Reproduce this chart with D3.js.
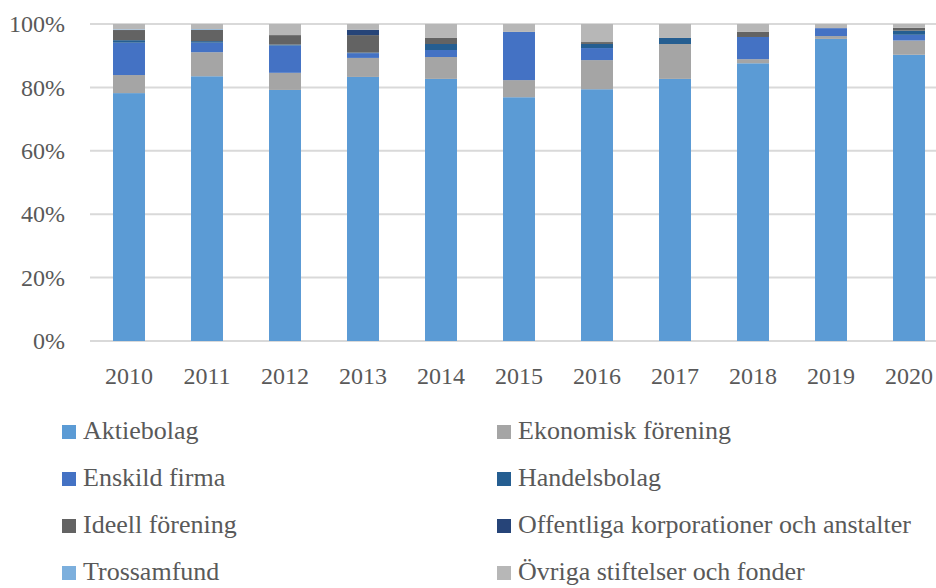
<!DOCTYPE html>
<html>
<head>
<meta charset="utf-8">
<script src="https://cdn.jsdelivr.net/npm/d3@7"></script>
<style>
  body { margin: 0; background: #fff; }
  text { font-family: "Liberation Serif", "Times New Roman", serif; fill: #595959; }
</style>
</head>
<body>
<div id="chart"></div>
<script>
var years = ["2010", "2011", "2012", "2013", "2014", "2015", "2016", "2017", "2018", "2019", "2020"];
var seriesNames = ["Aktiebolag", "Ekonomisk förening", "Enskild firma", "Handelsbolag",
  "Ideell förening", "Offentliga korporationer och anstalter", "Trossamfund", "Övriga stiftelser och fonder"];
var seriesColors = ["#5b9bd5", "#a5a5a5", "#4472c4", "#255e91", "#636363", "#264478", "#7cafdd", "#b7b7b7"];

// share in percent per year
var aktiebolag   = [78.2, 83.6, 79.2, 83.3, 82.6, 76.9, 79.5, 82.6, 87.7, 95.3, 90.2];
var ekonomisk    = [5.7, 7.6, 5.4, 6.0, 6.9, 5.4, 9.2, 11.0, 1.3, 0.9, 4.5];
var enskild      = [10.2, 3.0, 8.6, 1.5, 2.2, 15.2, 3.8, 0, 7.0, 2.5, 1.8];
var handelsbolag = [0.8, 0.5, 0.3, 0.2, 1.9, 0, 1.3, 1.9, 0, 0, 1.3];
var ideell       = [3.2, 3.6, 3.0, 5.5, 1.9, 0, 0.6, 0, 1.6, 0, 0.9];
var offentliga   = [0, 0, 0, 1.7, 0, 0, 0, 0, 0, 0, 0];
var trossamfund  = [0.2, 0.2, 0, 0, 0, 0, 0, 0, 0, 0, 0];
var ovriga       = [1.7, 1.6, 3.5, 1.8, 4.4, 2.5, 5.7, 4.4, 2.5, 1.3, 1.2];
var yTicks = [0, 0.2, 0.4, 0.6, 0.8, 1];

var seriesValues = [aktiebolag, ekonomisk, enskild, handelsbolag, ideell, offentliga, trossamfund, ovriga];
var table = years.map(function (yr, i) {
  var row = { year: yr };
  seriesNames.forEach(function (name, k) { row[name] = seriesValues[k][i]; });
  return row;
});

var width = 936, height = 588;
var margin = { top: 24, left: 90, bottom: 247 };
var plotBottom = height - margin.bottom;

var svg = d3.select("#chart").append("svg")
  .attr("width", width)
  .attr("height", height);

var x = d3.scaleBand().domain(years).range([90, 948]).paddingInner(0.59).paddingOuter(0.295);
var y = d3.scaleLinear().domain([0, 1]).range([341, 24]);
var color = d3.scaleOrdinal().domain(seriesNames).range(seriesColors);

// gridlines
svg.append("g")
  .selectAll("line")
  .data(yTicks)
  .enter()
  .append("line")
  .attr("x1", 90)
  .attr("x2", width)
  .attr("y1", function (d) { return y(d); })
  .attr("y2", function (d) { return y(d); })
  .style("stroke", "#d9d9d9")
  .style("stroke-width", 2);

var yAxis = d3.axisLeft(y).tickValues(yTicks).tickFormat(d3.format(".0%")).tickSize(0).tickPadding(0);
svg.append("g")
  .attr("transform", "translate(65,0)")
  .call(yAxis)
  .call(function (g) { g.select(".domain").remove(); })
  .selectAll("text")
  .style("font-size", "24px")
  .attr("fill", "#595959");

var stacked = d3.stack().keys(seriesNames).offset(d3.stackOffsetExpand)(table);

svg.append("g")
  .selectAll("g")
  .data(stacked)
  .enter()
  .append("g")
  .attr("fill", function (d) { return color(d.key); })
  .selectAll("rect")
  .data(function (d) { return d; })
  .enter()
  .append("rect")
  .attr("x", function (d) { return x(d.data.year); })
  .attr("y", function (d) { return y(d[1]); })
  .attr("width", x.bandwidth())
  .attr("height", function (d) { return y(d[0]) - y(d[1]); });

var xAxis = d3.axisBottom(x).tickSize(0).tickPadding(0);
svg.append("g")
  .attr("transform", "translate(0,367)")
  .call(xAxis)
  .call(function (g) { g.select(".domain").remove(); })
  .selectAll("text")
  .style("font-size", "24px")
  .attr("dy", "0.71em")
  .attr("fill", "#595959");

// legend, two columns
var legend = svg.append("g").selectAll("g")
  .data(seriesNames)
  .enter()
  .append("g")
  .attr("transform", function (d, i) {
    return "translate(" + (i % 2 === 0 ? 62 : 497) + "," + (432 + Math.floor(i / 2) * 47) + ")";
  });

legend.append("rect")
  .attr("x", 0)
  .attr("y", -7)
  .attr("width", 14)
  .attr("height", 14)
  .attr("fill", function (d) { return color(d); });

legend.append("text")
  .attr("x", 21)
  .attr("y", 7)
  .style("font-size", "26px")
  .text(function (d) { return d; });
</script>
</body>
</html>
